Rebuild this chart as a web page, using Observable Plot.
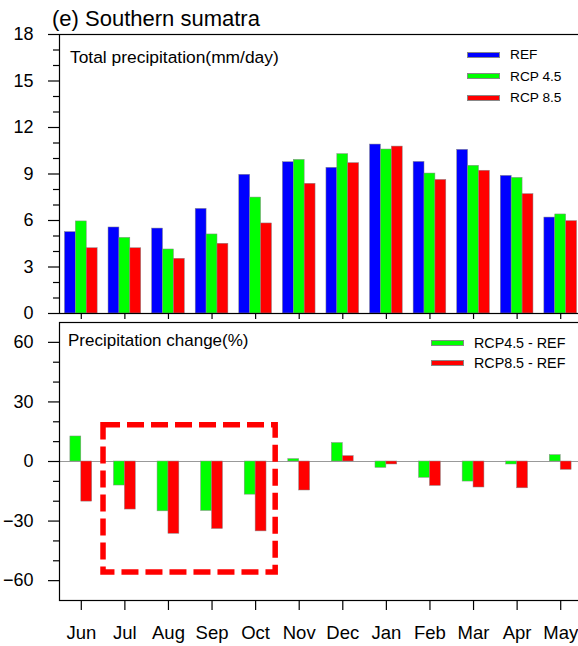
<!DOCTYPE html>
<html>
<head>
<meta charset="utf-8">
<script src="https://cdn.jsdelivr.net/npm/d3@7"></script>
<script src="https://cdn.jsdelivr.net/npm/@observablehq/plot@0.6"></script>
<style>
  html, body { margin: 0; padding: 0; background: white; overflow: hidden; }
  #wrap { position: relative; width: 578px; height: 646px; overflow: hidden; font-family: "Liberation Sans", Arial, Helvetica, sans-serif; color: #000; }
  #wrap svg { position: absolute; left: 0; top: 0; max-width: none !important; }
  .lbl { position: absolute; white-space: nowrap; line-height: 1; }
  .leg { position: absolute; display: flex; align-items: center; height: 20px; white-space: nowrap; }
  .sw { display: inline-block; width: 33px; height: 6px; box-sizing: border-box; border: 0.5px solid #888; margin-right: 10px; }
</style>
</head>
<body>
<div id="wrap"></div>
<script>
// ---- data ----
const months = ["Jun","Jul","Aug","Sep","Oct","Nov","Dec","Jan","Feb","Mar","Apr","May"];
const refValues   = [5.25, 5.55, 5.48, 6.75, 8.95, 9.76, 9.40, 10.90, 9.78, 10.56, 8.88, 6.19];
const rcp45Values = [5.94, 4.88, 4.13, 5.10, 7.48, 9.91, 10.28, 10.58, 9.03, 9.53, 8.75, 6.39];
const rcp85Values = [4.21, 4.21, 3.53, 4.50, 5.81, 8.37, 9.70, 10.77, 8.62, 9.21, 7.70, 5.96];
const change45 = [12.6, -12.1, -25.1, -24.9, -16.7, 1.2, 9.3, -3.2, -8.2, -10.1, -1.5, 3.2];
const change85 = [-20.2, -24.2, -36.4, -34.0, -35.2, -14.6, 2.7, -1.5, -12.3, -13.1, -13.5, -4.2];
const topSeries = ["REF", "RCP 4.5", "RCP 8.5"];
const bottomSeries = ["RCP4.5 - REF", "RCP8.5 - REF"];
const topTicks = [0, 3, 6, 9, 12, 15, 18];
const topMinorTicks = [1, 2, 4, 5, 7, 8, 10, 11, 13, 14, 16, 17];
const bottomTicks = [-60, -30, 0, 30, 60];
const bottomMinorTicks = [-50, -40, -20, -10, 10, 20, 40, 50];
const boxMonthSpan = [1.01, 4.96];   // in month-index units (band boundaries)
const boxValueSpan = [-55.9, 18.2];  // in % units
const titleText = "(e) Southern sumatra";
const topLabel = "Total precipitation(mm/day)";
const bottomLabel = "Precipitation change(%)";

// ---- styling ----
const colors = {"REF": "#0000ff", "RCP 4.5": "#00ff00", "RCP 8.5": "#ff0000", "RCP4.5 - REF": "#00ff00", "RCP8.5 - REF": "#ff0000"};
const W = 590, ML = 59, MR = 8;
const step = (W - ML - MR) / months.length;
const barW = step / 4;
const inset = (step - barW) / 2;
const font = "Liberation Sans, Arial, Helvetica, sans-serif";
const svgStyle = {background: "transparent", maxWidth: "none", overflow: "visible", fontFamily: font, color: "black"};

const topRows = months.map((m, i) => ({month: m, REF: refValues[i], "RCP 4.5": rcp45Values[i], "RCP 8.5": rcp85Values[i]}));
const botRows = months.map((m, i) => ({month: m, "RCP4.5 - REF": change45[i], "RCP8.5 - REF": change85[i]}));

const wrap = document.getElementById("wrap");
function place(svg, h) {
  svg.style.maxWidth = "none";
  svg.style.width = W + "px";
  svg.style.height = h + "px";
  wrap.appendChild(svg);
}

const topPlot = Plot.plot({
  width: W, height: 322,
  marginTop: 34, marginBottom: 9, marginLeft: ML, marginRight: MR,
  style: svgStyle,
  x: {domain: months, padding: 0, round: false},
  y: {domain: [0, 18]},
  marks: [
    ...topSeries.map((s, k) => Plot.barY(topRows, {
      x: "month", y: s, fill: colors[s], stroke: "#888", strokeWidth: 0.5,
      insetLeft: inset, insetRight: inset, dx: (k - 1) * barW
    })),
    Plot.frame({stroke: "black", strokeWidth: 1.2}),
    Plot.axisY({ticks: topTicks, tickSize: 11, tickPadding: 15, fontSize: 18, label: null, strokeWidth: 1.2}),
    Plot.axisY({ticks: topMinorTicks, tickSize: 6, tickFormat: () => "", label: null, strokeWidth: 1.2}),
    Plot.axisX({tickSize: 6, tickFormat: () => "", label: null, strokeWidth: 1.2})
  ]
});
place(topPlot, 322);

const botPlot = Plot.plot({
  width: W, height: 646,
  marginTop: 322, marginBottom: 46, marginLeft: ML, marginRight: MR,
  style: svgStyle,
  x: {domain: months, padding: 0, round: false},
  y: {domain: [-70, 70]},
  marks: [
    Plot.ruleY([0], {stroke: "#999", strokeWidth: 1.2}),
    ...bottomSeries.map((s, k) => Plot.barY(botRows, {
      x: "month", y: s, fill: colors[s], stroke: "#888", strokeWidth: 0.5,
      insetLeft: inset, insetRight: inset, dx: (k - 0.5) * barW
    })),
    Plot.frame({stroke: "black", strokeWidth: 1.2}),
    Plot.axisY({ticks: bottomTicks, tickSize: 11, tickPadding: 15, fontSize: 18, label: null, strokeWidth: 1.2}),
    Plot.axisY({ticks: bottomMinorTicks, tickSize: 6, tickFormat: () => "", label: null, strokeWidth: 1.2}),
    Plot.axisX({tickSize: 10, tickPadding: 15, fontSize: 18.5, label: null, strokeWidth: 1.2})
  ]
});
place(botPlot, 646);

// dashed highlight box, on a month-index linear scale aligned with the band scale
const boxPlot = Plot.plot({
  width: W, height: 646,
  marginTop: 322, marginBottom: 46, marginLeft: ML, marginRight: MR,
  style: svgStyle,
  x: {domain: [0, months.length], axis: null},
  y: {domain: [-70, 70], axis: null},
  marks: [
    Plot.rect([{x1: boxMonthSpan[0], x2: boxMonthSpan[1], y1: boxValueSpan[0], y2: boxValueSpan[1]}], {
      x1: "x1", x2: "x2", y1: "y1", y2: "y2",
      fill: "none", stroke: "#ff0000", strokeWidth: 5.5, strokeDasharray: "17,7"
    })
  ]
});
place(boxPlot, 646);

// texts
function addLabel(text, left, top, size) {
  const d = document.createElement("div");
  d.className = "lbl";
  d.textContent = text;
  d.style.left = left + "px";
  d.style.top = top + "px";
  d.style.fontSize = size + "px";
  wrap.appendChild(d);
}
addLabel(titleText, 52, 8, 22);
addLabel(topLabel, 70, 48.5, 17.4);
addLabel(bottomLabel, 68, 332, 17);

function addLegend(series, left, centers, size) {
  series.forEach((s, i) => {
    const d = document.createElement("div");
    d.className = "leg";
    d.style.left = left + "px";
    d.style.top = (centers[i] - 10) + "px";
    d.style.fontSize = size + "px";
    const sw = document.createElement("span");
    sw.className = "sw";
    sw.style.background = colors[s];
    const t = document.createElement("span");
    t.textContent = s;
    d.appendChild(sw); d.appendChild(t);
    wrap.appendChild(d);
  });
}
addLegend(topSeries, 467, [54.5, 76, 97.5], 13.7);
addLegend(bottomSeries, 431, [342.7, 362.7], 14.3);
</script>
</body>
</html>
